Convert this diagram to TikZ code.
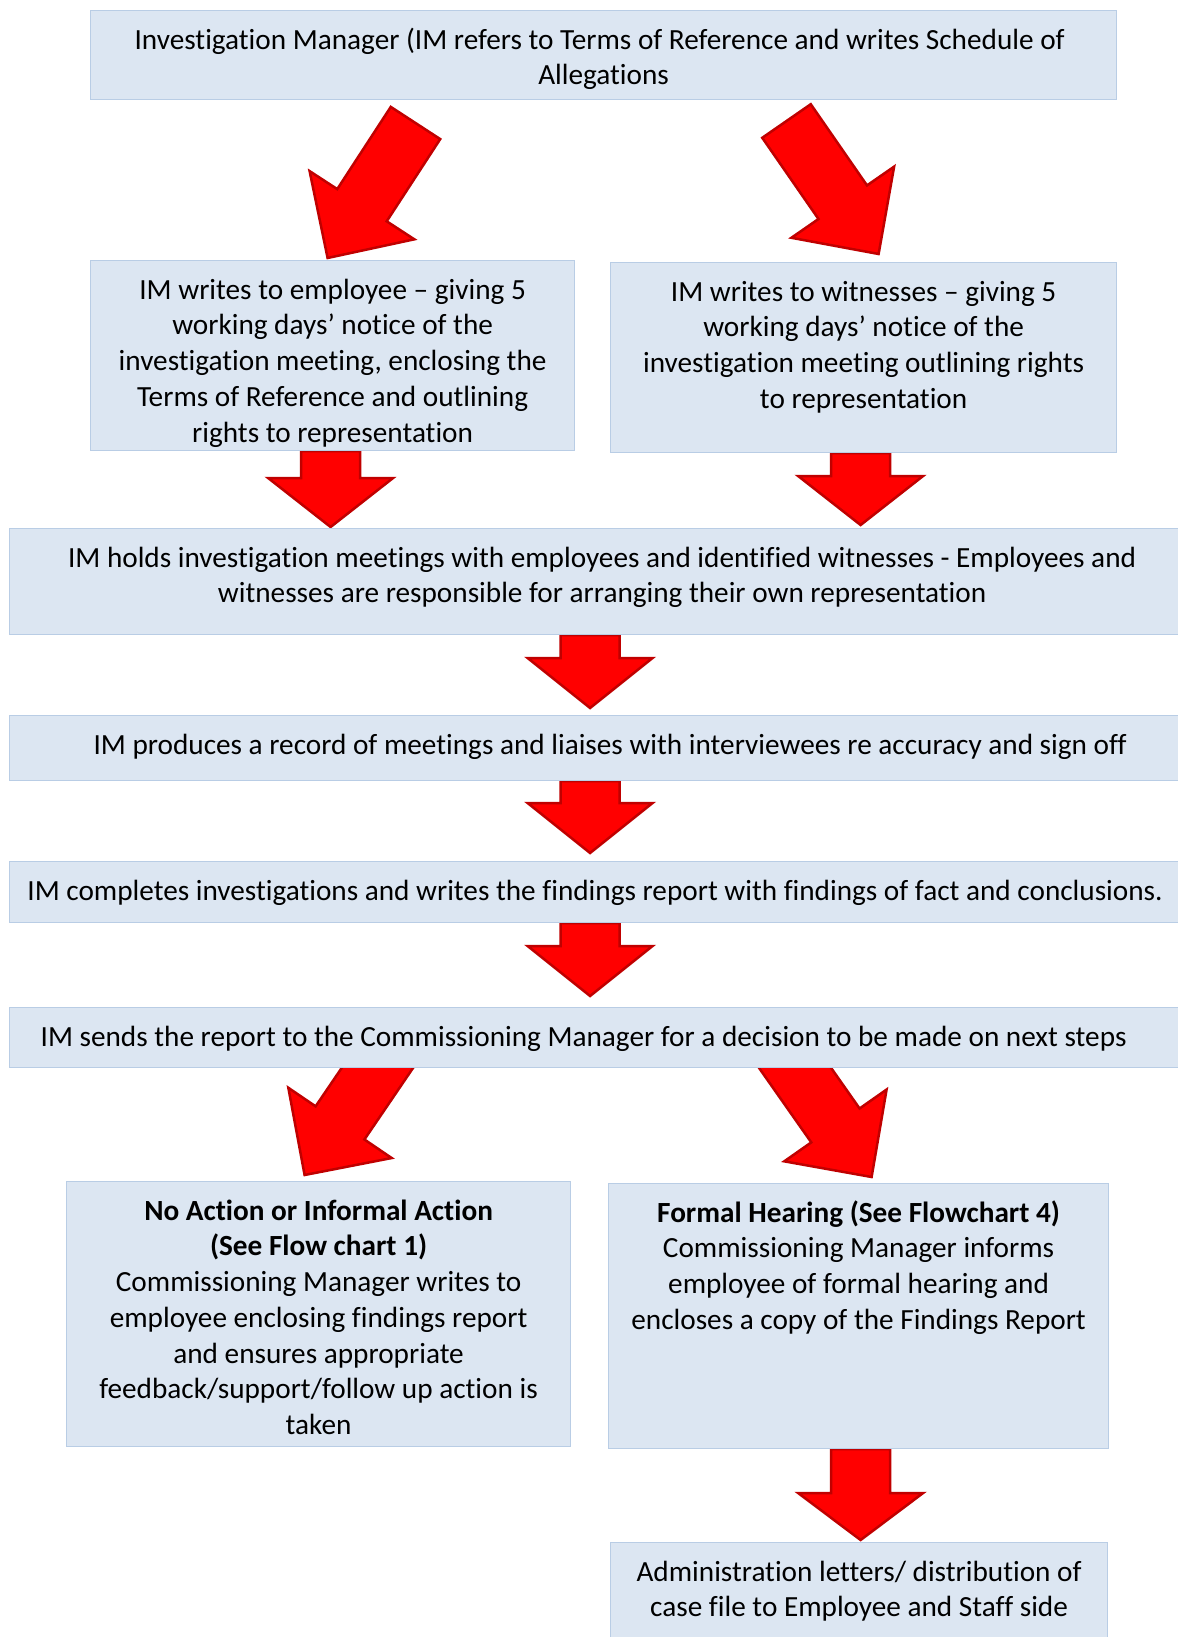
\documentclass[tikz,border=0pt]{standalone}
\usepackage{fontspec}
\setmainfont{Carlito}[Ligatures=NoCommon]
\usetikzlibrary{calc,backgrounds}

\definecolor{boxfill}{HTML}{DCE6F2}
\definecolor{boxline}{HTML}{B9CDE5}
\definecolor{arrowred}{HTML}{FF0000}
\definecolor{arrowrim}{HTML}{C00000}

% text of a box: width, height, lines (top aligned)
\newcommand{\boxtext}[3]{\parbox[t][#2pt][t]{#1pt}{\centering\rule{0pt}{38.6pt}#3}}

\tikzset{
    box/.style={draw=boxline, fill=boxfill, line width=1.2pt, anchor=north west,
        inner sep=0pt, font=\fontsize{29.25}{35.7}\selectfont},
    blockarrow/.style={fill=arrowred, draw=arrowrim, line width=2.5pt, line join=miter,
        to path={
            ($(\tikztostart)!29.5pt!90:(\tikztotarget)$)
            -- ($($(\tikztotarget)!#1!(\tikztostart)$)!29.5pt!90:(\tikztotarget)$)
            -- ($($(\tikztotarget)!#1!(\tikztostart)$)!62.5pt!90:(\tikztotarget)$)
            -- (\tikztotarget)
            -- ($($(\tikztotarget)!#1!(\tikztostart)$)!62.5pt!-90:(\tikztotarget)$)
            -- ($($(\tikztotarget)!#1!(\tikztostart)$)!29.5pt!-90:(\tikztotarget)$)
            -- ($(\tikztostart)!29.5pt!-90:(\tikztotarget)$)
            -- cycle}},
}

\begin{document}
\begin{tikzpicture}[x=1pt, y=-1pt]
    \useasboundingbox (0,0) rectangle (1177,1637);

    \node[box] (top) at (90,10) {\boxtext{1026}{89}{\hspace*{-8pt}Investigation Manager (IM refers to Terms of Reference and writes Schedule of\\Allegations}};
    \node[box] (emp) at (90,260) {\boxtext{484}{190}{IM writes to employee – giving 5\\working days’ notice of the\\investigation meeting, enclosing the\\Terms of Reference and outlining\\rights to representation}};
    \node[box] (wit) at (610,262) {\boxtext{506}{190}{IM writes to witnesses – giving 5\\working days’ notice of the\\investigation meeting outlining rights\\to representation}};
    \node[box] (hold) at (9,528) {\boxtext{1171}{106}{\hspace*{14pt}IM holds investigation meetings with employees and identified witnesses - Employees and\\\hspace*{14pt}witnesses are responsible for arranging their own representation}};
    \node[box] (rec) at (9,715) {\boxtext{1171}{65}{\hspace*{30pt}IM produces a record of meetings and liaises with interviewees re accuracy and sign off}};
    \node[box] (find) at (9,861) {\boxtext{1171}{61}{IM completes investigations and writes the findings report with findings of fact and conclusions.}};
    \node[box] (send) at (9,1007) {\boxtext{1171}{60}{\hspace*{-23pt}IM sends the report to the Commissioning Manager for a decision to be made on next steps}};
    \node[box] (noact) at (66,1181) {\boxtext{504}{265}{\textbf{No Action or Informal Action}\\\textbf{(See Flow chart 1)}\\Commissioning Manager writes to\\employee enclosing findings report\\and ensures appropriate\\feedback/support/follow up action is\\taken}};
    \node[box] (formal) at (608,1183) {\boxtext{500}{265}{\textbf{Formal Hearing (See Flowchart 4)}\\Commissioning Manager informs\\employee of formal hearing and\\encloses a copy of the Findings Report}};
    \node[box] (admin) at (610,1542) {\boxtext{497}{110}{Administration letters/ distribution of\\case file to Employee and Staff side}};

    \begin{scope}[on background layer]
        \coordinate (tailA) at (415.5,123);
        \coordinate (tailB) at (786.5,121);
        \coordinate (tailC) at (395,1042);
        \coordinate (tailD) at (779,1045);
        % slanted arrows
        \draw[blockarrow=63pt] (tailA) to ($(emp.north)+(-5,-2)$);
        \draw[blockarrow=63pt] (tailB) to ($(wit.north)+(15,-8)$);
        \draw[blockarrow=63pt] (tailC) to ($(noact.north)+(-14,-6)$);
        \draw[blockarrow=63pt] (tailD) to ($(formal.north)+(13,-6)$);
        % straight down arrows
        \draw[blockarrow=49pt] ($(emp.south)+(-2,0)$) to ($(emp.south |- hold.north)+(-2,-1)$);
        \draw[blockarrow=49pt] ($(wit.south)+(-3,0)$) to ($(wit.south |- hold.north)+(-3,-3)$);
        \draw[blockarrow=50pt] ($(hold.south)+(-5,0)$) to ($(rec.north)+(-5,-7)$);
        \draw[blockarrow=50pt] ($(rec.south)+(-5,0)$) to ($(find.north)+(-5,-8)$);
        \draw[blockarrow=50pt] ($(find.south)+(-5,0)$) to ($(send.north)+(-5,-11)$);
        \draw[blockarrow=47pt] ($(formal.south)+(2,0)$) to ($(admin.north)+(1.5,-2)$);
    \end{scope}
\end{tikzpicture}
\end{document}
